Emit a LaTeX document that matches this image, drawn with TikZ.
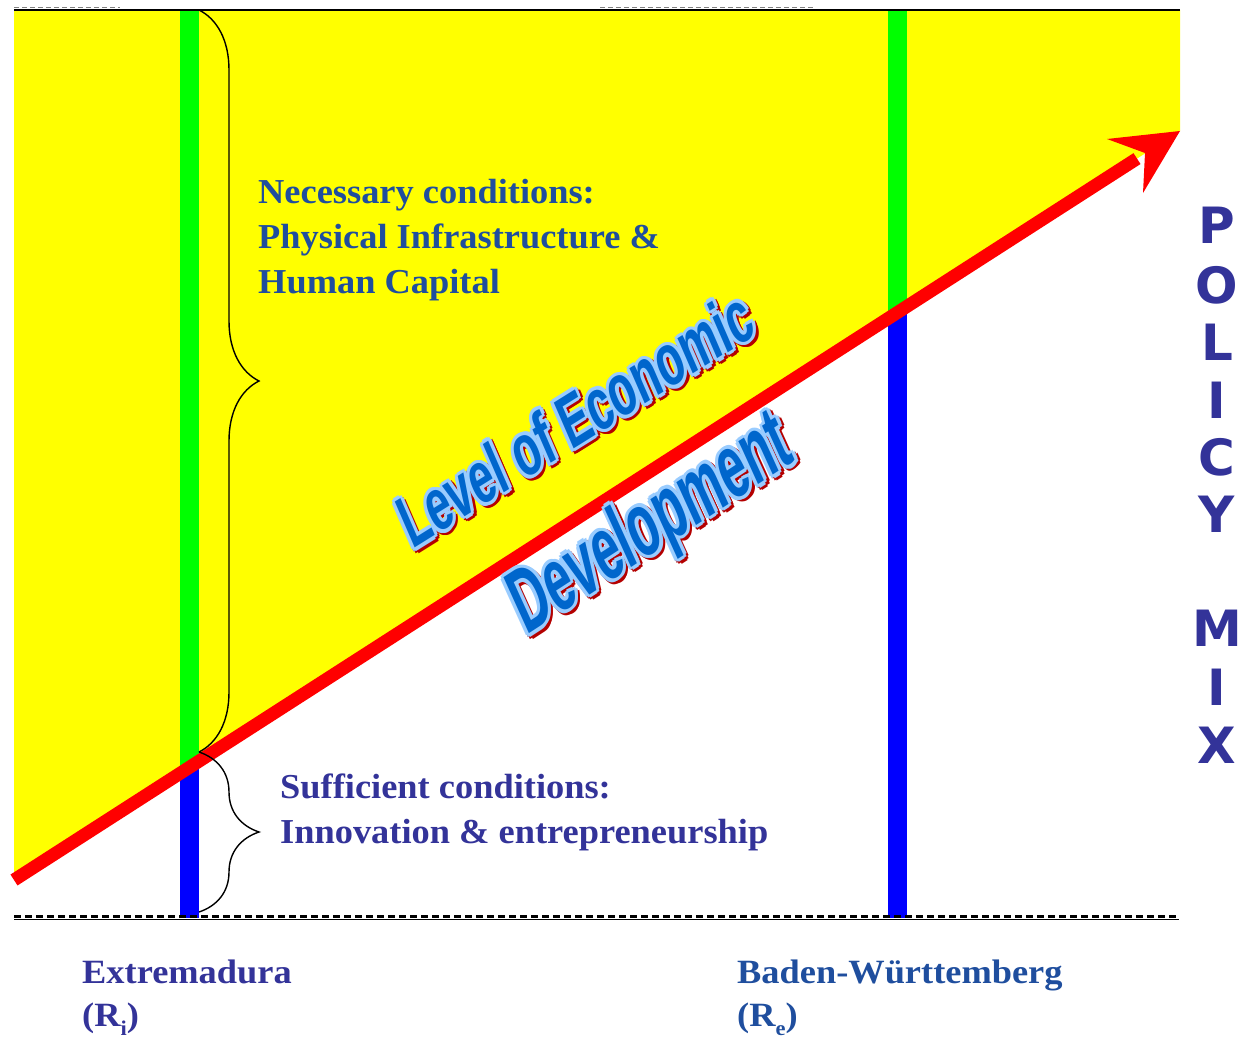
\documentclass[tikz,border=0pt]{standalone}
\usepackage{fontspec}
\usepackage{graphicx}
\usetikzlibrary{decorations.pathreplacing}

\setmainfont{Liberation Serif}
\newfontfamily\labelfont{Liberation Serif}[FakeStretch=1.04]
\newfontfamily\regionfont{Liberation Serif}[FakeStretch=1.07]
\newfontfamily\mixfont{DejaVu Sans}
\newfontfamily\artfont{Liberation Sans}

\definecolor{plotyellow}{RGB}{255,255,0}
\definecolor{bargreen}{RGB}{0,255,0}
\definecolor{barblue}{RGB}{0,0,255}
\definecolor{axisred}{RGB}{255,0,0}
\definecolor{inkA}{RGB}{31,78,158}
\definecolor{inkB}{RGB}{51,51,153}
\definecolor{artfill}{RGB}{0,102,204}
\definecolor{artedge}{RGB}{153,204,255}
\definecolor{artshadow}{RGB}{180,0,0}

% outlined, shadowed lettering for the diagonal title
\newcommand\artbody{}
\newcommand\artring[3]{%
  \foreach \artang in {0,45,...,315}{%
    \pgfmathsetlengthmacro\artdx{#2+3.5pt*cos(\artang)}%
    \pgfmathsetlengthmacro\artdy{#3+3.5pt*sin(\artang)}%
    \makebox[0pt][l]{\hspace*{\artdx}\raisebox{\artdy}{\color{#1}\artbody}}}}
\newcommand\wordart[3]{%
  \renewcommand\artbody{\resizebox{#1}{#2}{\artfont\bfseries #3}}%
  \artring{artshadow}{1.5pt}{-3pt}%
  \artring{artedge}{0pt}{0pt}%
  {\color{artfill}\artbody}}

\tikzset{
  condtext/.style={anchor=base west, inner sep=0pt, font=\labelfont\bfseries\fontsize{35}{40}\selectfont},
  regiontext/.style={anchor=base west, inner sep=0pt, font=\regionfont\bfseries\fontsize{34}{38}\selectfont},
  mixletter/.style={anchor=center, inner sep=0pt, text=inkB, font=\mixfont\bfseries\fontsize{50}{52}\selectfont},
  curly/.style={decorate, decoration={brace, amplitude=60pt}, line width=1.4pt, black},
  artline/.style={anchor=base west, inner sep=0pt}
}
\newcommand\regsub[1]{\raisebox{-0.28em}{\fontsize{21}{21}\selectfont #1}}

\begin{document}
\begin{tikzpicture}[x=1pt,y=-1pt]
\useasboundingbox (0,0) rectangle (1239,1046);

% axis of development
\coordinate (axstart) at (14,880);
\coordinate (axtip) at (1180,131);
\coordinate (axend) at (1137,158.6);

% region above the axis
\fill[plotyellow] (14,10) -- (1180,10) -- (1180,131) -- (axstart) -- cycle;

% regional bars
\fill[bargreen] (180,10) rectangle (199,918);
\fill[barblue] (180,767) rectangle (199,918);
\fill[bargreen] (888,10) rectangle (907,918);
\fill[barblue] (888,312) rectangle (907,918);

% frame lines
\draw[line width=2pt] (14,10) -- (1180,10);
\draw[gray, line width=1.5pt, dash pattern=on 5pt off 3pt] (14,7.5) -- (120,7.5);
\draw[gray, line width=1.5pt, dash pattern=on 5pt off 3pt] (600,7.5) -- (815,7.5);
\draw[line width=1.5pt] (14,919.5) -- (1179,919.5);
\draw[line width=3pt, dash pattern=on 7pt off 4pt] (14,916.5) -- (1179,916.5);

% the arrow
\draw[axisred, line width=13pt] (axstart) -- (axend);
\fill[axisred] (axtip) -- (1107,139) -- (1145,153) -- (1143,193) -- cycle;

% braces
\coordinate (gtop) at (199,10);
\coordinate (gmeet) at (199,752);
\coordinate (gbot) at (199,912);
\draw[curly] (gtop) -- (gmeet);
\draw[curly] (gmeet) -- (gbot);

% condition labels
\node[condtext, text=inkA] (nec1) at (258,203) {Necessary conditions:};
\node[condtext, text=inkA] (nec2) at (258,248) {Physical Infrastructure \&};
\node[condtext, text=inkA] (nec3) at (258,293) {Human Capital};
\node[condtext, text=inkB] (suf1) at (280,798) {Sufficient conditions:};
\node[condtext, text=inkB] (suf2) at (280,843) {Innovation \& entrepreneurship};

% regions
\node[regiontext, text=inkB] (extr1) at (82,983) {Extremadura};
\node[regiontext, text=inkB] (extr2) at (82,1026) {(R\regsub{i})};
\node[regiontext, text=inkA] (bw1) at (737,983) {Baden-Württemberg};
\node[regiontext, text=inkA] (bw2) at (737,1026) {(R\regsub{e})};

% policy mix, one letter per line
\node[mixletter] (pm1) at (1217,225) {P};
\node[mixletter] (pm2) at (1217,285) {O};
\node[mixletter] (pm3) at (1217,342) {L};
\node[mixletter] (pm4) at (1217,400) {I};
\node[mixletter] (pm5) at (1217,457) {C};
\node[mixletter] (pm6) at (1217,514) {Y};
\node[mixletter] (pm7) at (1217,628) {M};
\node[mixletter] (pm8) at (1217,687) {I};
\node[mixletter] (pm9) at (1217,745) {X};

% diagonal title
\node[artline, rotate=32, xslant=0.15] (art1) at (412,550) {\wordart{408pt}{52pt}{Level of Economic}};
\node[artline, rotate=33, xslant=0.15] (art2) at (526,636) {\wordart{322pt}{64pt}{Development}};
\end{tikzpicture}
\end{document}
